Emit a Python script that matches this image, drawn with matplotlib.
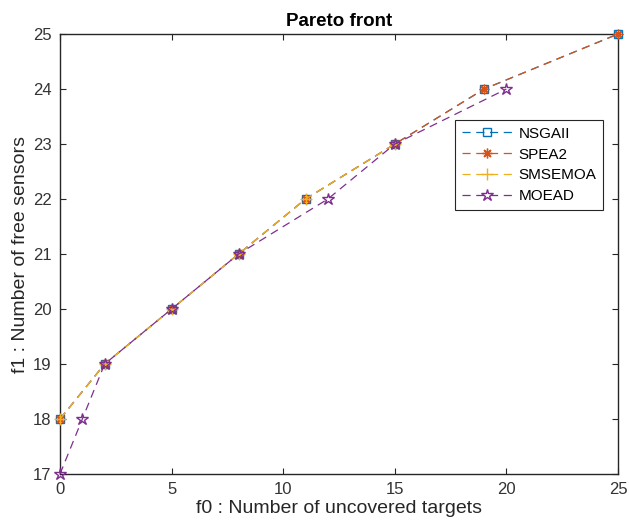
import matplotlib
matplotlib.use("Agg")
import matplotlib.pyplot as plt

plt.rcParams['font.family'] = ['Liberation Sans', 'DejaVu Sans']

# Pareto fronts per algorithm (f0 = uncovered targets, f1 = free sensors)
nsga2_f0 = [0, 2, 5, 8, 11, 15, 19, 25]
nsga2_f1 = [18, 19, 20, 21, 22, 23, 24, 25]
spea2_f0 = [0, 2, 5, 8, 11, 15, 19, 25]
spea2_f1 = [18, 19, 20, 21, 22, 23, 24, 25]
smsemoa_f0 = [0, 2, 5, 8, 11, 15]
smsemoa_f1 = [18, 19, 20, 21, 22, 23]
moead_f0 = [0, 1, 2, 5, 8, 12, 15, 20]
moead_f1 = [17, 18, 19, 20, 21, 22, 23, 24]

labels = ["NSGAII", "SPEA2", "SMSEMOA", "MOEAD"]
x_ticks = [0, 5, 10, 15, 20, 25]
y_ticks = [17, 18, 19, 20, 21, 22, 23, 24, 25]

colors = ["#0072BD", "#D95319", "#EDB120", "#7E2F8E"]
markers = ["s", (8, 2, 0), "+", "*"]
msizes = [6, 7, 8, 9]

fig = plt.figure(figsize=(6.29, 5.32), dpi=100)
ax = fig.add_axes([0.0954, 0.109, 0.8871, 0.827])

series = [(nsga2_f0, nsga2_f1), (spea2_f0, spea2_f1),
          (smsemoa_f0, smsemoa_f1), (moead_f0, moead_f1)]
for (xs, ys), lab, c, m, ms in zip(series, labels, colors, markers, msizes):
    ax.plot(xs, ys, linestyle=(0, (6.5, 4.5)), linewidth=0.9, color=c,
            marker=m, markersize=ms, markerfacecolor='none',
            markeredgecolor=c, markeredgewidth=1.0, label=lab,
            clip_on=False, zorder=3)

ax.set_xlim(0, 25)
ax.set_ylim(17, 25)
ax.set_xticks(x_ticks)
ax.set_yticks(y_ticks)

axis_color = "#262626"
for s in ax.spines.values():
    s.set_color(axis_color)
    s.set_linewidth(1.0)
ax.tick_params(direction='in', length=4, width=0.8, colors=axis_color,
               labelsize=12, top=True, right=True, pad=6)
for lbl in ax.get_xticklabels() + ax.get_yticklabels():
    lbl.set_color("#333333")

ax.set_title("Pareto front", fontsize=13.5, fontweight='bold', pad=6)
ax.set_xlabel("f0 : Number of uncovered targets", fontsize=14, labelpad=2,
              color="#262626")
ax.set_ylabel("f1 : Number of free sensors", fontsize=14, labelpad=3,
              color="#262626")

leg = ax.legend(loc='upper left', bbox_to_anchor=(0.708, 0.805),
                fontsize=11, handlelength=3.3, handletextpad=0.4,
                borderpad=0.45, labelspacing=0.45, fancybox=False,
                framealpha=1, edgecolor=axis_color, borderaxespad=0)
leg.get_frame().set_linewidth(0.8)

fig.savefig("out.png", dpi=100)
